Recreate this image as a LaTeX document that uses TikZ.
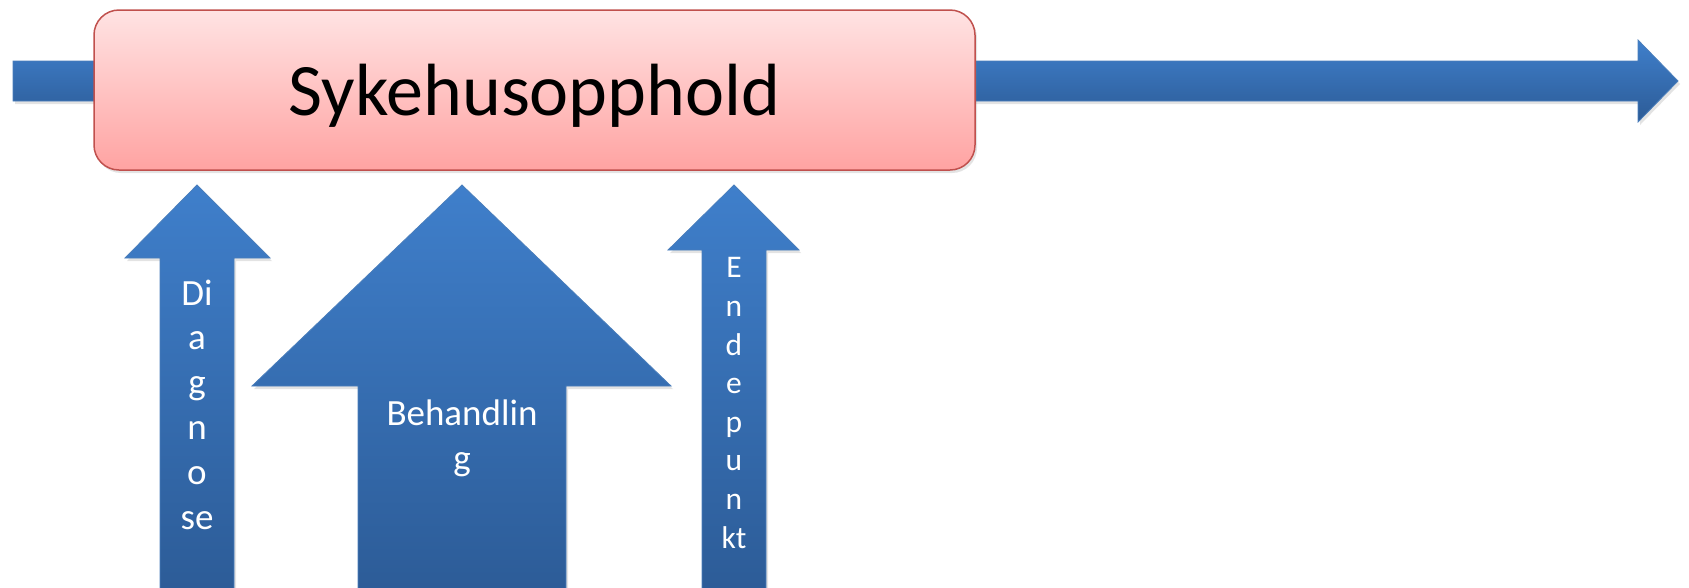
\documentclass[tikz,border=0pt]{standalone}
\usepackage{fontspec}
\setmainfont{Carlito}
\usetikzlibrary{shadows}
\definecolor{bluetop}{HTML}{3F7FCB}
\definecolor{bluebot}{HTML}{2C5B96}
\definecolor{blueline}{HTML}{4A7EBB}
\definecolor{pinktop}{HTML}{FFE3E3}
\definecolor{pinkbot}{HTML}{FFA3A2}
\definecolor{redline}{HTML}{C0504D}
\begin{document}
\begin{tikzpicture}[x=1pt,y=-1pt,
  softshadow/.style={drop shadow={opacity=0.22,shadow xshift=2pt,shadow yshift=-3pt}},
  bluearrow/.style={top color=bluetop,bottom color=bluebot,draw=blueline,line width=0.8pt,softshadow},
  staybox/.style={rounded corners=25pt,top color=pinktop,bottom color=pinkbot,draw=redline,line width=1.5pt,
    minimum width=881pt,minimum height=160pt,text height=55pt,text depth=5pt,
    font=\fontsize{74}{88}\selectfont,text=black,softshadow},
  lbl/.style={text=white,align=center,inner sep=0pt,anchor=north}
]
\useasboundingbox (0,0) rectangle (1689,587);
% timeline arrow
\path[bluearrow] (13,61) -- (1638,61) -- (1638,40) -- (1678,81) -- (1638,122) -- (1638,101) -- (13,101) -- cycle;
% hospital stay box
\node[staybox] (stay) at (534.5,90) {Sykehusopphold};
% up arrows
\path[bluearrow] (160,600) -- (160,258) -- (125,258) -- (197,185) -- (270,258) -- (234,258) -- (234,600) -- cycle;
\path[bluearrow] (358,600) -- (358,386) -- (252,386) -- (462,185) -- (671,386) -- (566,386) -- (566,600) -- cycle;
\path[bluearrow] (702,600) -- (702,250) -- (668,250) -- (734,185) -- (799,250) -- (766,250) -- (766,600) -- cycle;
% labels
\node[lbl,font=\fontsize{37}{44.8}\selectfont] (diag) at (197,279.5) {Di\\a\\g\\n\\o\\se};
\node[lbl,font=\fontsize{37}{45}\selectfont] (beh) at (462,400) {Behandlin\\g};
\node[lbl,font=\fontsize{31.5}{38.6}\selectfont] (ende) at (734,257.5) {E\\n\\d\\e\\p\\u\\n\\kt};
\end{tikzpicture}
\end{document}
